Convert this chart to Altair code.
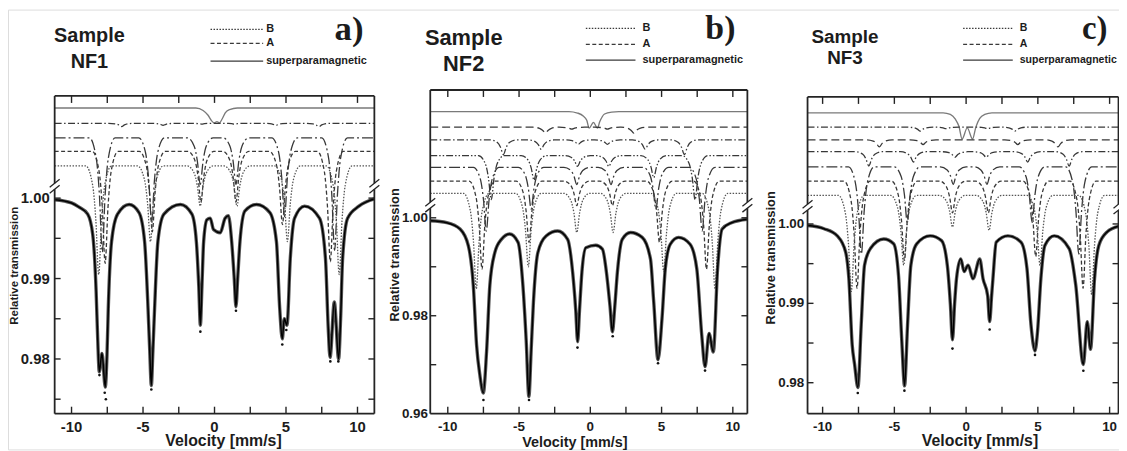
import altair as alt
import pandas as pd

SANS = "Liberation Sans"
SERIF = "Liberation Serif"

# ---------------- values ----------------
# total fitted spectra: (velocity mm/s, relative transmission)
TOTAL_A = [(-11.18, 0.9998), (-10.0, 0.9994), (-9.5, 0.9989), (-8.87, 0.998), (-8.52, 0.9955),
           (-8.28, 0.9884), (-8.17, 0.9825), (-8.06, 0.9784), (-7.87, 0.9807), (-7.64, 0.9765),
           (-7.52, 0.9805), (-7.43, 0.9863), (-7.2, 0.9946), (-6.78, 0.998), (-5.97, 0.9992),
           (-5.28, 0.9982), (-4.89, 0.9946), (-4.65, 0.9863), (-4.53, 0.981), (-4.42, 0.9767),
           (-4.31, 0.981), (-4.19, 0.9863), (-3.96, 0.9946), (-3.54, 0.998), (-2.38, 0.9992),
           (-1.58, 0.998), (-1.27, 0.9946), (-1.1, 0.989), (-0.99, 0.9842), (-0.88, 0.989),
           (-0.76, 0.9946), (-0.53, 0.9973), (-0.3, 0.9975), (-0.07, 0.9961), (0.4, 0.9957),
           (0.74, 0.9975), (0.97, 0.9978), (1.2, 0.9946), (1.38, 0.99), (1.5, 0.9865),
           (1.62, 0.99), (1.78, 0.9946), (2.13, 0.9984), (2.94, 0.9992), (3.87, 0.9982),
           (4.33, 0.9946), (4.56, 0.9863), (4.74, 0.9825), (4.88, 0.985), (5.07, 0.9842),
           (5.3, 0.9925), (5.6, 0.9975), (6.3, 0.999), (7.34, 0.9975), (7.76, 0.9925),
           (7.95, 0.984), (8.08, 0.9802), (8.38, 0.9871), (8.68, 0.98), (8.82, 0.985),
           (8.96, 0.9925), (9.31, 0.9975), (10.1, 0.999), (11.18, 0.9999)]

TOTAL_B = [(-11.23, 0.9994), (-10.07, 0.999), (-9.14, 0.9977), (-8.56, 0.9943), (-8.21, 0.9862),
           (-7.98, 0.974), (-7.75, 0.9679), (-7.51, 0.9642), (-7.28, 0.9726), (-7.05, 0.9862),
           (-6.7, 0.9929), (-6.24, 0.9956), (-5.66, 0.9967), (-5.07, 0.995), (-4.73, 0.9862),
           (-4.5, 0.975), (-4.31, 0.9635), (-4.15, 0.973), (-3.99, 0.9828), (-3.68, 0.9929),
           (-3.1, 0.9963), (-2.29, 0.9973), (-1.59, 0.9956), (-1.24, 0.9889), (-1.02, 0.981),
           (-0.89, 0.9747), (-0.76, 0.981), (-0.59, 0.9889), (-0.31, 0.9939), (0.38, 0.9944),
           (0.85, 0.9936), (1.13, 0.9889), (1.38, 0.982), (1.55, 0.9767), (1.72, 0.982),
           (1.9, 0.9889), (2.24, 0.9956), (2.82, 0.997), (3.64, 0.996), (4.22, 0.9916),
           (4.45, 0.9828), (4.75, 0.971), (5.03, 0.9794), (5.26, 0.9896), (5.61, 0.9946),
           (6.19, 0.996), (7.0, 0.9946), (7.47, 0.9896), (7.82, 0.976), (8.05, 0.9696),
           (8.33, 0.9764), (8.63, 0.9726), (8.93, 0.9896), (9.25, 0.9977), (9.91, 0.999),
           (11.02, 0.9997)]

TOTAL_C = [(-11.05, 0.9998), (-9.9, 0.9994), (-8.98, 0.9985), (-8.4, 0.9965), (-8.17, 0.9931),
           (-7.94, 0.9848), (-7.77, 0.9823), (-7.54, 0.9794), (-7.31, 0.9873), (-7.08, 0.9948),
           (-6.67, 0.9969), (-5.74, 0.9981), (-5.05, 0.9975), (-4.71, 0.9935), (-4.48, 0.9852),
           (-4.29, 0.9796), (-4.08, 0.9873), (-3.85, 0.9948), (-3.44, 0.9975), (-2.51, 0.9985),
           (-1.71, 0.9979), (-1.31, 0.9948), (-1.1, 0.99), (-0.95, 0.9854), (-0.8, 0.99),
           (-0.67, 0.9931), (-0.37, 0.9956), (-0.14, 0.994), (0.14, 0.9948), (0.48, 0.9931),
           (0.95, 0.9956), (1.18, 0.9931), (1.5, 0.991), (1.64, 0.9877), (1.78, 0.991),
           (1.87, 0.9931), (2.1, 0.9977), (2.91, 0.9985), (3.83, 0.9977), (4.24, 0.9944),
           (4.52, 0.9873), (4.8, 0.984), (4.98, 0.9865), (5.21, 0.9931), (5.49, 0.9973),
           (6.14, 0.9985), (7.18, 0.9969), (7.64, 0.9923), (8.17, 0.9823), (8.44, 0.9877),
           (8.67, 0.9842), (8.95, 0.9931), (9.25, 0.9973), (9.83, 0.999), (10.62, 0.9997)]

# stray measured points below the deepest lines
POINTS_A = [(-8.05, 0.978), (-7.68, 0.9758), (-7.6, 0.975), (-4.42, 0.9762), (-0.99, 0.9834),
            (1.5, 0.986), (4.74, 0.9818), (5.02, 0.9836), (8.1, 0.9797), (8.66, 0.9797)]
POINTS_B = [(-7.5, 0.9628), (-4.3, 0.9628), (-0.9, 0.9735), (1.57, 0.9758), (4.75, 0.9703), (8.05, 0.9688)]
POINTS_C = [(-7.55, 0.9787), (-4.3, 0.979), (-0.95, 0.9843), (1.64, 0.9867), (4.8, 0.9835), (8.17, 0.9815)]

# superparamagnetic doublets (offset above the break)
SP_A = [(-11.18, 1.0112), (-1.3, 1.0112), (-0.8, 1.0109), (-0.45, 1.0103), (-0.2, 1.0096),
        (-0.02, 1.00935), (0.17, 1.0095), (0.35, 1.00935), (0.55, 1.0099), (0.75, 1.0106),
        (1.05, 1.011), (1.6, 1.0112), (11.18, 1.0112)]
SP_B = [(-11.23, 1.0217), (-1.5, 1.0217), (-0.9, 1.0214), (-0.5, 1.0208), (-0.25, 1.0199),
        (-0.08, 1.0183), (0.22, 1.0195), (0.5, 1.0183), (0.66, 1.0196), (1.0, 1.0212),
        (1.5, 1.0216), (2.0, 1.0217), (11.02, 1.0217)]
SP_C = [(-11.05, 1.014), (-1.6, 1.014), (-1.1, 1.0138), (-0.75, 1.0132), (-0.5, 1.0123),
        (-0.28, 1.0107), (0.08, 1.0121), (0.45, 1.0107), (0.68, 1.0122), (0.95, 1.0133),
        (1.3, 1.0138), (1.8, 1.014), (10.62, 1.014)]

# magnetic sub-spectra: (line style, baseline, line positions, line depths)
SUB_A = [
    ("dashdot", 1.0093, [-6.5, -3.6, -0.9, 1.4, 4.3, 7.3], [0.0004, 0.00025, 0.0001, 0.0001, 0.00025, 0.0004]),
    ("longdashdot", 1.0075, [-7.85, -4.4, -1.0, 1.5, 4.9, 8.4], [0.0142, 0.0105, 0.0058, 0.0058, 0.0098, 0.014]),
    ("dash", 1.0058, [-7.65, -4.35, -0.95, 1.5, 4.75, 8.1], [0.0139, 0.0100, 0.0063, 0.0063, 0.0091, 0.0137]),
    ("dot", 1.004, [-8.1, -4.48, -1.0, 1.57, 5.1, 8.72], [0.0135, 0.0094, 0.005, 0.005, 0.0094, 0.0135]),
]
SUB_B = [
    ("longdash", 1.0185, [-3.15, -1.3, 1.2, 3.05], [0.0012, 0.0004, 0.0004, 0.0012]),
    ("dashdot", 1.0159, [-6.1, -3.45, -0.85, 1.2, 3.85, 6.6], [0.003, 0.0019, 0.0009, 0.0009, 0.0019, 0.003]),
    ("dashdotdot", 1.0127, [-6.95, -3.95, -0.9, 1.3, 4.45, 7.35], [0.009, 0.005, 0.0022, 0.0022, 0.0045, 0.009]),
    ("longdashdot", 1.0103, [-7.3, -4.15, -0.95, 1.45, 4.6, 7.85], [0.013, 0.0085, 0.0035, 0.0035, 0.0085, 0.013]),
    ("dash", 1.0075, [-7.6, -4.3, -0.95, 1.55, 4.85, 8.15], [0.018, 0.0125, 0.005, 0.005, 0.0125, 0.018]),
    ("dot", 1.005, [-8.0, -4.35, -0.95, 1.6, 5.15, 8.75], [0.0195, 0.015, 0.008, 0.008, 0.016, 0.0195]),
]
SUB_C = [
    ("dashdot", 1.0122, [-3.2, -1.4, 1.5, 3.4], [0.0005, 0.0002, 0.0002, 0.0005]),
    ("longdash", 1.0106, [-6.05, -3.0, 3.6, 6.4], [0.0009, 0.0006, 0.0006, 0.0009]),
    ("dashdot", 1.0091, [-6.78, -3.67, -0.78, 1.4, 4.29, 7.18], [0.0018, 0.0013, 0.0007, 0.0007, 0.0013, 0.0018]),
    ("longdashdot", 1.0072, [-7.3, -4.1, -0.9, 1.45, 4.6, 7.85], [0.011, 0.007, 0.0022, 0.0022, 0.007, 0.011]),
    ("dash", 1.0054, [-7.6, -4.3, -0.95, 1.55, 4.85, 8.15], [0.0135, 0.01, 0.004, 0.004, 0.0095, 0.0135]),
    ("dot", 1.0036, [-8.0, -4.35, -0.95, 1.6, 5.15, 8.75], [0.0121, 0.0088, 0.004, 0.0044, 0.0088, 0.0125]),
]

# shape of one absorption line (offset, fraction of depth)
PROFILE_DX = [-0.9, -0.42, -0.2, 0.0, 0.2, 0.42, 0.9]
PROFILE_FRAC = [0.0, 0.18, 0.5, 1.0, 0.5, 0.18, 0.0]

X_TICKS = [-10, -7.5, -5, -2.5, 0, 2.5, 5, 7.5, 10]
X_LABELS = [-10, -5, 0, 5, 10]
X_LABEL_TEXT = ["-10", "-5", "0", "5", "10"]
Y_TICKS_A = [0.975, 0.98, 0.985, 0.99, 0.995, 1.0]
Y_TICKS_B = [0.97, 0.98, 0.99, 1.0]
Y_TICKS_C = [0.98, 0.985, 0.99, 0.995, 1.0]
Y_LABELS_A = [0.98, 0.99, 1.00]
Y_LABELS_B = [0.96, 0.98, 1.00]
Y_LABELS_C = [0.98, 0.99, 1.00]
SAMPLES = ["NF1", "NF2", "NF3"]
LETTERS = ["a)", "b)", "c)"]
LEGEND = ["B", "A", "superparamagnetic"]

# ---------------- styles / layout ----------------
DASH = {
    "dot": [1.5, 1.5],
    "dash": [4, 2.5],
    "longdash": [8, 4],
    "dashdot": [7, 2.5, 1.5, 2.5],
    "dashdotdot": [7, 2, 1.5, 2, 1.5, 2],
    "longdashdot": [11, 3, 2, 3],
}
FRAME = "#242424"
INK = "#1c1c1c"

GEOM = {
    "a": dict(xd=[-11.18, 11.18], xr=[47, 369], yd=[0.9732, 1.0127], yr=[407, 87], brk=178,
              tick_fs=15, xlab_y=425, ylab_x=42, ytitle=(7.5, 258, 11.5), xtitle=(217, 440, 16),
              sample=(82, 32.3, 59.3, 20), letter=(343.5, 31), letter_fs=35,
              leg_x=(204, 257, 257), leg_y=(20, 34, 52), leg_lab=(260, 260), leg_fs=11),
    "b": dict(xd=[-11.23, 11.02], xr=[425.3, 744.7], yd=[0.96, 1.0261], yr=[407, 81], brk=197,
              tick_fs=13.5, xlab_y=424, ylab_x=423, ytitle=(390, 247, 13), xtitle=(571, 441, 14.5),
              sample=(459, 36, 62, 22), letter=(717.5, 30), letter_fs=34,
              leg_x=(582, 632, 632), leg_y=(19, 35, 51), leg_lab=(639, 639), leg_fs=11),
    "c": dict(xd=[-11.05, 10.62], xr=[805.3, 1118.5], yd=[0.9761, 1.016], yr=[407, 88], brk=199,
              tick_fs=13.5, xlab_y=424, ylab_x=802, ytitle=(769, 250, 13), xtitle=(979, 440, 16),
              sample=(843, 34, 55, 19), letter=(1094.5, 29.5), letter_fs=33,
              leg_x=(962, 1012, 1012), leg_y=(19, 35, 51), leg_lab=(1019, 1019), leg_fs=10.6),
}

ONE = pd.DataFrame({"k": [0]})


def xsc(g):
    return alt.Scale(domain=g["xd"], range=g["xr"], nice=False, zero=False)


def ysc(g):
    return alt.Scale(domain=g["yd"], range=g["yr"], nice=False, zero=False)


def curve(g, pts, dash, color, width, opacity=1.0):
    df = pd.DataFrame(pts, columns=["v", "t"])
    kw = dict(interpolate="monotone", color=color, strokeWidth=width, opacity=opacity)
    if dash:
        kw["strokeDash"] = dash
    return alt.Chart(df).mark_line(**kw).encode(
        x=alt.X("v:Q", scale=xsc(g), axis=None),
        y=alt.Y("t:Q", scale=ysc(g), axis=None))


def sextet(g, base, centers, depths):
    pts = [(g["xd"][0], base)]
    for c, d in zip(centers, depths):
        for dx, f in zip(PROFILE_DX, PROFILE_FRAC):
            pts.append((c + dx, base - d * f))
    pts.append((g["xd"][1], base))
    return pts


def seg(x1, y1, x2, y2, color=FRAME, w=1.8, dash=None):
    kw = dict(color=color, strokeWidth=w)
    if dash:
        kw["strokeDash"] = dash
    return alt.Chart(ONE).mark_rule(**kw).encode(
        x=alt.value(x1), y=alt.value(y1), x2=alt.value(x2), y2=alt.value(y2))


def label(txt, x, y, size, font=SANS, align="center", baseline="alphabetic", angle=None):
    kw = dict(text=txt, font=font, fontSize=size, fontWeight="bold", align=align,
              baseline=baseline, color=INK)
    if angle is not None:
        kw["angle"] = angle
    return alt.Chart(ONE).mark_text(**kw).encode(x=alt.value(x), y=alt.value(y))


def panel(key, idx, total, points, sp, subs, yticks, ylabels):
    g = GEOM[key]
    L = []
    x0, x1 = g["xr"]
    y1, y0 = g["yr"]
    b = g["brk"]
    # sub-spectra
    L.append(curve(g, sp, None, "#7a7a7a", 1.35))
    for style, base, cs, ds in subs:
        col = "#555555" if style == "dot" else "#383838"
        L.append(curve(g, sextet(g, base, cs, ds), DASH[style], col, 1.3))
    # measured band + fit
    L.append(curve(g, total, None, "#3a3a3a", 3.4, 0.85))
    L.append(curve(g, total, None, "#000000", 1.5))
    pdf = pd.DataFrame(points, columns=["v", "t"])
    L.append(alt.Chart(pdf).mark_circle(size=7, color="#111111", opacity=1).encode(
        x=alt.X("v:Q", scale=xsc(g), axis=None), y=alt.Y("t:Q", scale=ysc(g), axis=None)))
    # frame with axis break
    L += [seg(x0, y0, x1, y0), seg(x0, y1, x1, y1),
          seg(x0, y0, x0, b - 3), seg(x0, b + 3, x0, y1),
          seg(x1, y0, x1, b - 3), seg(x1, b + 3, x1, y1)]
    for xx in (x0, x1):
        L += [seg(xx - 5, b + 1, xx + 5, b - 7, w=1.3), seg(xx - 5, b + 7, xx + 5, b - 1, w=1.3)]
    # ticks (inward)
    tdf = pd.DataFrame({"tv": X_TICKS})
    tx = alt.X("tv:Q", scale=xsc(g), axis=None)
    L.append(alt.Chart(tdf).mark_rule(color=FRAME, strokeWidth=1.4).encode(
        x=tx, y=alt.value(y1), y2=alt.value(y1 - 7)))
    L.append(alt.Chart(tdf).mark_rule(color=FRAME, strokeWidth=1.4).encode(
        x=tx, y=alt.value(y0), y2=alt.value(y0 + 7)))
    ydf = pd.DataFrame({"tv": yticks})
    ty = alt.Y("tv:Q", scale=ysc(g), axis=None)
    L.append(alt.Chart(ydf).mark_rule(color=FRAME, strokeWidth=1.4).encode(
        y=ty, x=alt.value(x0), x2=alt.value(x0 + 6)))
    L.append(alt.Chart(ydf).mark_rule(color=FRAME, strokeWidth=1.4).encode(
        y=ty, x=alt.value(x1 - 6), x2=alt.value(x1)))
    # tick labels
    xl = pd.DataFrame({"tv": X_LABELS, "lab": X_LABEL_TEXT})
    L.append(alt.Chart(xl).mark_text(font=SANS, fontSize=g["tick_fs"], fontWeight="bold",
                                     color=INK, baseline="alphabetic").encode(
        x=alt.X("tv:Q", scale=xsc(g), axis=None), y=alt.value(g["xlab_y"]), text="lab:N"))
    yl = pd.DataFrame({"tv": ylabels, "lab": [f"{v:.2f}" for v in ylabels]})
    L.append(alt.Chart(yl).mark_text(font=SANS, fontSize=g["tick_fs"], fontWeight="bold",
                                     color=INK, align="right", baseline="middle").encode(
        y=alt.Y("tv:Q", scale=ysc(g), axis=None), x=alt.value(g["ylab_x"]), text="lab:N"))
    # axis titles
    tx_, ty_, tfs = g["ytitle"]
    L.append(label("Relative transmission", tx_, ty_, tfs, baseline="middle", angle=270))
    vx, vy, vfs = g["xtitle"]
    L.append(label("Velocity [mm/s]", vx, vy, vfs))
    # header
    sx, sy1, sy2, sfs = g["sample"]
    L.append(label("Sample", sx, sy1, sfs))
    L.append(label(SAMPLES[idx], sx, sy2, sfs))
    lx, ly = g["letter"]
    L.append(label(LETTERS[idx], lx, ly, g["letter_fs"], font=SERIF))
    # legend
    la, lb, lc = g["leg_x"]
    ya, yb, yc = g["leg_y"]
    L.append(seg(la, ya, lb, ya, color="#3a3a3a", w=1.2, dash=DASH["dot"]))
    L.append(seg(la, yb, lb, yb, color="#3a3a3a", w=1.2, dash=DASH["dash"]))
    L.append(seg(la, yc, lc, yc, color="#3a3a3a", w=1.2))
    t1, t2 = g["leg_lab"]
    L.append(label(LEGEND[0], t1, ya, g["leg_fs"], align="left", baseline="middle"))
    L.append(label(LEGEND[1], t1, yb, g["leg_fs"], align="left", baseline="middle"))
    L.append(label(LEGEND[2], t2, yc, g["leg_fs"], align="left", baseline="middle"))
    return L


layers = []
layers += panel("a", 0, TOTAL_A, POINTS_A, SP_A, SUB_A, Y_TICKS_A, Y_LABELS_A)
layers += panel("b", 1, TOTAL_B, POINTS_B, SP_B, SUB_B, Y_TICKS_B, Y_LABELS_B)
layers += panel("c", 2, TOTAL_C, POINTS_C, SP_C, SUB_C, Y_TICKS_C, Y_LABELS_C)

chart = alt.layer(*layers).resolve_scale(
    x="independent", y="independent"
).properties(
    width=1119, height=443, padding=0,
    autosize=alt.AutoSizeParams(type="none"),
).configure_view(stroke=None).configure(background="white")

chart.save("out.html", embed_options={"renderer": "svg", "actions": False})
